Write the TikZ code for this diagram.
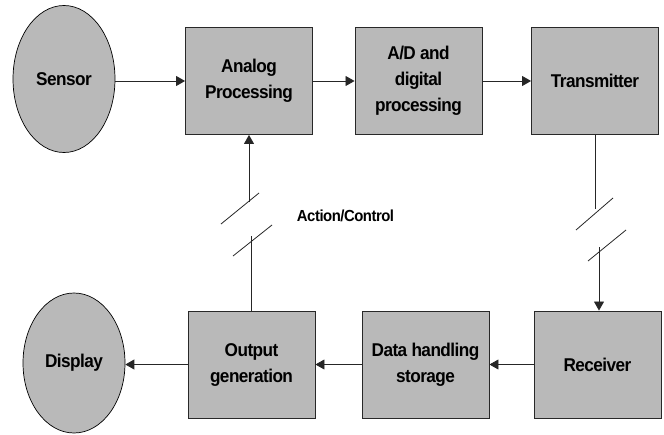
\documentclass[tikz,border=0pt]{standalone}
\usepackage{fontspec}
\setmainfont{Liberation Sans}[LetterSpace=-3,FakeStretch=0.93]
\usetikzlibrary{arrows.meta,shapes.geometric}
\definecolor{boxgray}{RGB}{185,185,185}
\definecolor{edgegray}{RGB}{40,40,40}
\tikzset{
  blk/.style={draw=edgegray, line width=0.9pt, fill=boxgray, rectangle,
    minimum width=127pt, minimum height=107pt, inner sep=0pt, align=center,
    font=\fontsize{18.5}{26}\selectfont\bfseries},
  oval/.style={draw=black, line width=0.7pt, fill=boxgray, ellipse,
    inner sep=0pt, font=\fontsize{18.5}{26}\selectfont\bfseries},
  arr/.style={draw=black!85, line width=0.8pt, -{Triangle[length=9pt,width=10pt]}},
  ln/.style={draw=black!85, line width=0.8pt},
  lbl/.style={font=\fontsize{16}{19}\selectfont\bfseries, inner sep=0pt}
}
\begin{document}
\begin{tikzpicture}[x=1pt,y=-1pt]
\useasboundingbox (0,0) rectangle (664,434);
% top row
\node[oval, minimum width=102pt, minimum height=147pt] (sensor) at (64,79) {Sensor};
\node[blk] (analog) at (249,81) {Analog\\Processing};
\node[blk] (ad) at (418.5,81) {A/D and\\digital\\processing};
\node[blk] (tx) at (595,81) {Transmitter};
% bottom row
\node[oval, minimum width=102pt, minimum height=140pt] (display) at (74,363) {Display};
\node[blk] (out) at (251.5,364.5) {Output\\generation};
\node[blk] (data) at (425.5,364.5) {Data handling\\storage};
\node[blk] (rx) at (597.5,364.5) {Receiver};
% label
\node[lbl] (act) at (345.5,216) {Action/Control};
% horizontal connectors
\draw[arr] (sensor.east |- analog.west) -- (analog.west);
\draw[arr] (analog.east) -- (ad.west);
\draw[arr] (ad.east) -- (tx.west);
\draw[arr] (rx.west) -- (data.east);
\draw[arr] (data.west) -- (out.east);
\draw[arr] (out.west) -- (out.west -| display.east);
% feedback link (left)
\coordinate (la) at (251,236);
\coordinate (lb) at (249,202);
\coordinate (s1a) at (221,224); \coordinate (s1b) at (259,193);
\coordinate (s2a) at (233,256); \coordinate (s2b) at (272,225);
\draw[ln] (out.north -| la) -- (la);
\draw[arr] (lb) -- (lb |- analog.south);
\draw[ln] (s1a) -- (s1b);
\draw[ln] (s2a) -- (s2b);
% transmission link (right)
\coordinate (ra) at (595,209);
\coordinate (rb) at (599,247);
\coordinate (t1a) at (576,230); \coordinate (t1b) at (613,198);
\coordinate (t2a) at (588,261); \coordinate (t2b) at (626,230);
\draw[ln] (tx.south) -- (ra);
\draw[arr] (rb) -- (rb |- rx.north);
\draw[ln] (t1a) -- (t1b);
\draw[ln] (t2a) -- (t2b);
\end{tikzpicture}
\end{document}
